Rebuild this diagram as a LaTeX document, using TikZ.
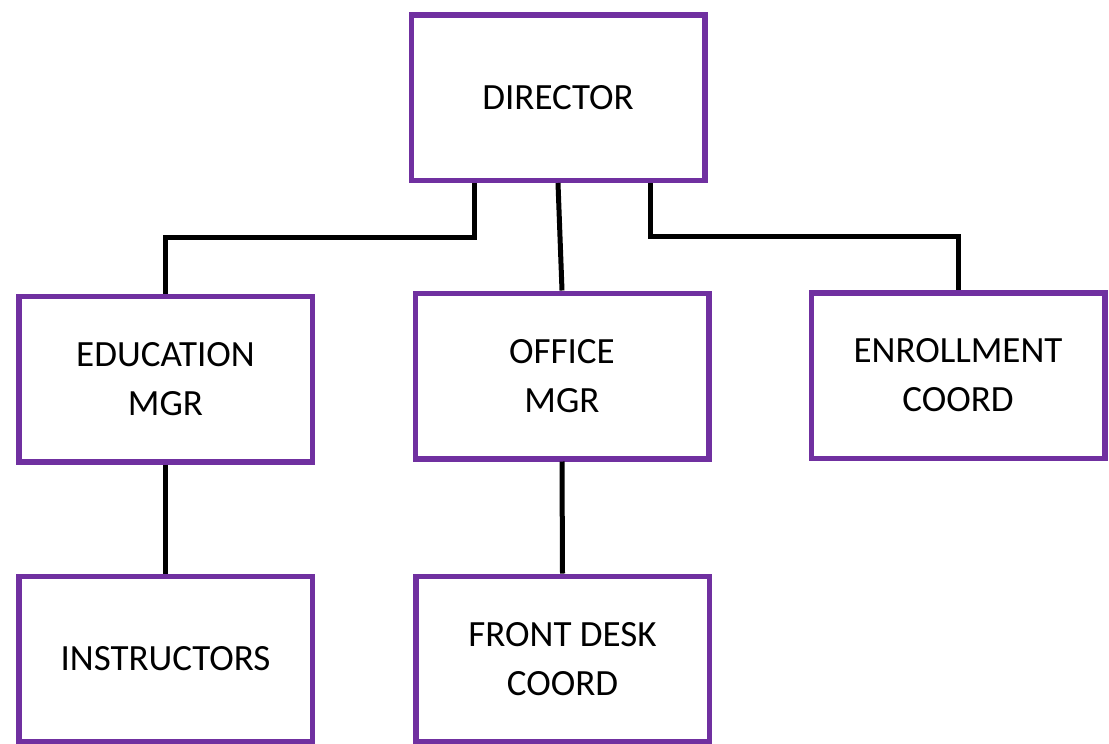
\documentclass[tikz,border=0pt]{standalone}
\usepackage{fontspec}
\setmainfont{Carlito}
\definecolor{boxpurple}{RGB}{112,48,160}
\tikzset{
  unit/.style={draw=boxpurple, line width=5.5pt, minimum width=293.5pt, minimum height=165.5pt,
    align=center, inner sep=0pt, font=\fontsize{37}{49}\selectfont},
}
\begin{document}
\begin{tikzpicture}[x=1pt, y=-1pt]
        \useasboundingbox (0,0) rectangle (1109,744);

        \node [unit] (dir)  at (558,97.5)  {DIRECTOR};
        \node [unit] (edu)  at (165.5,379) {EDUCATION\\MGR};
        \node [unit] (off)  at (562,376)   {OFFICE\\MGR};
        \node [unit] (enr)  at (958,375.5) {ENROLLMENT\\COORD};
        \node [unit] (ins)  at (165.5,659) {INSTRUCTORS};
        \node [unit] (desk) at (562.5,659) {FRONT DESK\\COORD};

        \begin{scope}[line width=5pt]
        \draw ([xshift=-84pt]dir.south) -- ++(0,54) -| (edu.north);
        \draw (dir.south) -- (off.north);
        \draw ([xshift=92pt]dir.south) -- ++(0,53) -| (enr.north);
        \draw (edu.south) -- (ins.north);
        \draw (off.south) -- (desk.north);
        \end{scope}

\end{tikzpicture}
\end{document}
